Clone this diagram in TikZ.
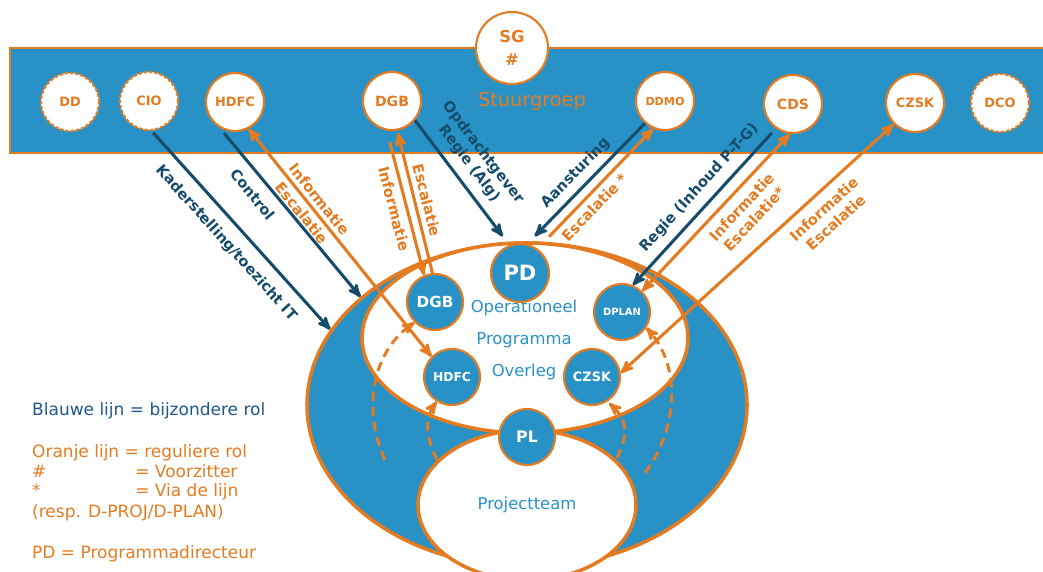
\documentclass[tikz,border=0pt]{standalone}
\usepackage{fontspec}
\setmainfont{DejaVu Sans}
\usetikzlibrary{arrows,shapes.geometric}
\definecolor{sgorange}{RGB}{229,123,32}
\definecolor{sgblue}{RGB}{40,146,199}
\definecolor{sgdark}{RGB}{22,76,107}
\definecolor{legblue}{RGB}{30,88,140}

\begin{document}
\begin{tikzpicture}[x=0.03cm,y=-0.03cm,>=stealth',
band/.style={fill=sgblue,draw=sgorange,line width=2.5pt},
member/.style={circle,fill=white,draw=sgorange,line width=1.8pt,minimum size=1.74cm,
inner sep=0pt,text=sgorange,font=\bfseries\fontsize{11}{13}\selectfont},
guest/.style={member,dash pattern=on 3pt off 1.5pt},
role/.style={circle,fill=sgblue,draw=sgorange,line width=1.8pt,minimum size=1.68cm,
inner sep=0pt,text=white,font=\bfseries\fontsize{11}{13}\selectfont},
ring/.style={ellipse,draw=sgorange,line width=3pt,inner sep=0pt},
blueline/.style={->,draw=sgdark,text=sgdark,line width=2.6pt},
orangeline/.style={->,draw=sgorange,text=sgorange,line width=2.6pt},
dashline/.style={->,draw=sgorange,line width=2.5pt,dash pattern=on 8pt off 5pt},
lbl/.style={sloped,align=center,font=\bfseries\fontsize{12.5}{15}\selectfont},
legend/.style={anchor=base west,inner sep=0pt,font=\fontsize{14.5}{17}\selectfont}]
\useasboundingbox (0,0) rectangle (1043,572);
\clip (0,0) rectangle (1043,572);

% stuurgroep
\draw[band] (10,48) rectangle (1060,153);
\node[member,minimum size=2.16cm,align=center,
font=\bfseries\fontsize{14}{16}\selectfont] (sg) at (512,48) {SG\\[4pt]\#};
\node[text=sgorange,font=\fontsize{16.5}{20}\selectfont] (stuur) at (532,101) {Stuurgroep};
\node[guest] (dd) at (70,102) {DD};
\node[guest] (cio) at (149,101) {CIO};
\node[member] (hdfc) at (235,102) {HDFC};
\node[member,font=\bfseries\fontsize{12}{14}\selectfont] (dgb) at (392,101) {DGB};
\node[member,font=\bfseries\fontsize{9.5}{11}\selectfont] (ddmo) at (665,101) {DDMO};
\node[member,font=\bfseries\fontsize{12}{14}\selectfont] (cds) at (793,104) {CDS};
\node[member] (czsk) at (915,103) {CZSK};
\node[guest] (dco) at (1000,103) {DCO};

% programma
\node[ring,fill=sgblue,minimum width=13.2cm,minimum height=9.72cm] (outer) at (527,405) {};
\node[ring,fill=white,minimum width=9.78cm,minimum height=5.7cm] (opo) at (525,338) {};
\node[ring,fill=white,minimum width=6.54cm,minimum height=4.5cm] (team) at (527,505) {};
\node[text=sgblue,font=\fontsize{14}{17}\selectfont] (teamtxt) at (527,505) {Projectteam};
\node[text=sgblue,align=center,font=\fontsize{14}{27}\selectfont] (opotxt) at (524,340)
{Operationeel\\Programma\\Overleg};

\node[role,minimum size=1.74cm,font=\bfseries\fontsize{18}{20}\selectfont] (pd) at (520,273) {PD};
\node[role,font=\bfseries\fontsize{13}{15}\selectfont] (dgbi) at (435,302) {DGB};
\node[role,font=\bfseries\fontsize{10.5}{12}\selectfont] (hdfci) at (452,377) {HDFC};
\node[role,font=\bfseries\fontsize{8.5}{10}\selectfont] (dplan) at (622,312) {DPLAN};
\node[role] (czski) at (592,377) {CZSK};
\node[role,font=\bfseries\fontsize{13.5}{15}\selectfont] (pl) at (527,437) {PL};

% via de lijn
\coordinate (dl1) at (385,460);
\coordinate (dl2) at (437,460);
\coordinate (dl3) at (617,458);
\coordinate (dl4) at (645,473);
\draw[dashline] (dl1) .. controls (362,410) and (372,352) .. (dgbi.-135);
\draw[dashline] (dl2) .. controls (425,435) and (425,418) .. (hdfci.-122);
\draw[dashline,shorten >=2pt] (dl3) .. controls (628,435) and (628,420) .. (czski.-58);
\draw[dashline] (dl4) .. controls (680,425) and (680,365) .. (dplan.-33);

% lijnen
\draw[blueline,shorten <=2pt] (cio.-85) -- node[lbl,below=6pt,pos=0.5] {Kaderstelling/toezicht IT} (outer.159);
\draw[blueline,shorten <=6pt] (hdfc.-121) -- node[lbl,below=5pt,pos=0.33] {Control} (outer.147);
\draw[orangeline,<->] (hdfc.-63) -- node[lbl,pos=0.34] {Informatie\\[4pt]Escalatie} (hdfci.135);
\draw[orangeline,shorten <=10pt] (dgb.-100) -- node[lbl,below=1pt,pos=0.52] {Informatie} (dgbi.112);
\draw[orangeline,shorten >=2pt] (dgbi.95) -- node[lbl,above=1pt,pos=0.49] {Escalatie} (dgb.-80);
\draw[blueline,shorten >=6pt] (dgb.-40) -- node[lbl,above=4pt,pos=0.44] {Opdrachtgever\\Regie (Alg)} (outer.97);
\draw[blueline,shorten >=6pt] (ddmo.-132) -- node[lbl,above=2pt,pos=0.51] {Aansturing} (outer.89);
\draw[orangeline,shorten <=6pt] (outer.84) -- node[lbl,below=1pt,pos=0.38] {Escalatie *} (ddmo.-113);
\draw[blueline,shorten <=5pt] (cds.-125) -- node[lbl,above=3.5pt,pos=0.45] {Regie (Inhoud P-T-G)} (dplan.68);
\draw[orangeline,<->] (dplan.46) -- node[lbl,below=3pt,pos=0.6] {Informatie\\Escalatie*} (cds.-96);
\draw[orangeline,<->] (czski.8) -- node[lbl,below=4pt,pos=0.705] {Informatie\\Escalatie} (czsk.-135);

% legenda
\node[legend,text=legblue] (leg1) at (32,415) {Blauwe lijn = bijzondere rol};
\node[legend,text=sgorange] (leg2) at (32,457) {Oranje lijn = reguliere rol};
\node[legend,text=sgorange] (leg3) at (32,477) {\makebox[88pt][l]{\#}= Voorzitter};
\node[legend,text=sgorange] (leg4) at (32,496) {\makebox[88pt][l]{*}= Via de lijn};
\node[legend,text=sgorange] (leg5) at (32,517) {(resp. D-PROJ/D-PLAN)};
\node[legend,text=sgorange] (leg6) at (32,558) {PD = Programmadirecteur};
\end{tikzpicture}
\end{document}
